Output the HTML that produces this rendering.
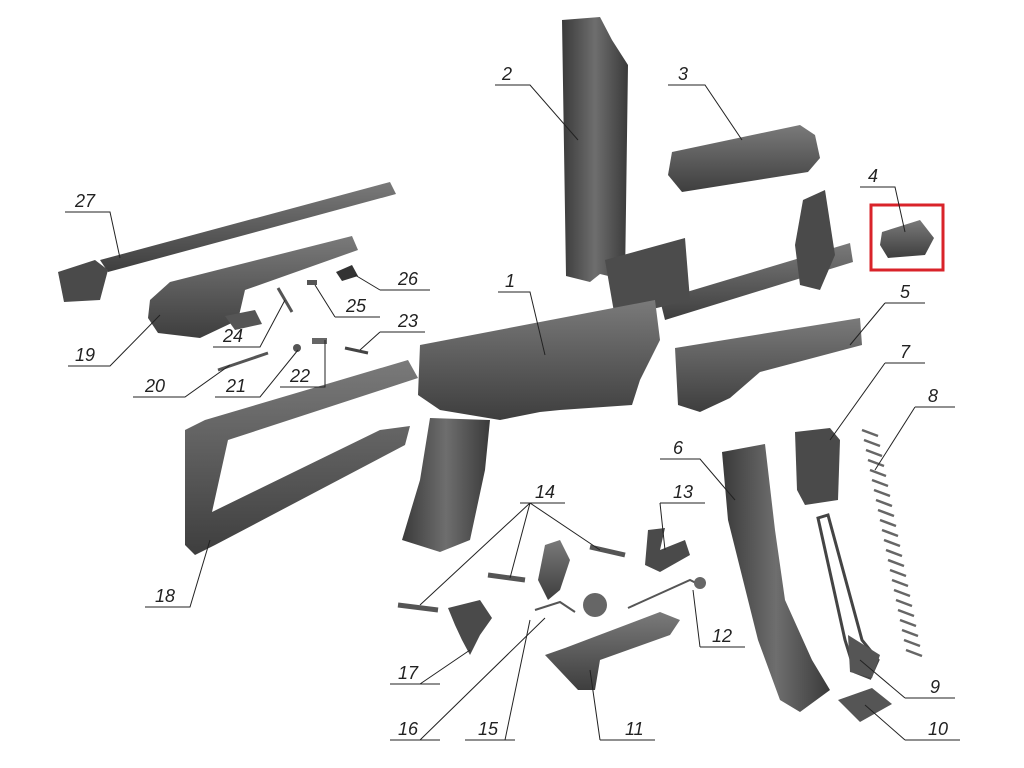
<!DOCTYPE html>
<html><head><meta charset="utf-8"><style>
html,body{margin:0;padding:0;background:#fff;}
svg{display:block}
text{font-family:"Liberation Sans",sans-serif;font-style:italic;font-size:18px;fill:#222}
.l{stroke:#222;stroke-width:1;fill:none}
</style></head><body>
<svg width="1024" height="768" viewBox="0 0 1024 768">
<defs>
<linearGradient id="g" x1="0" y1="0" x2="0" y2="1"><stop offset="0" stop-color="#7a7a7a"/><stop offset="1" stop-color="#3e3e3e"/></linearGradient>
<linearGradient id="g2" x1="0" y1="0" x2="1" y2="0"><stop offset="0" stop-color="#3a3a3a"/><stop offset=".5" stop-color="#6e6e6e"/><stop offset="1" stop-color="#3a3a3a"/></linearGradient>
</defs>
<!-- 27 rod -->
<path d="M100 260 L390 182 L396 194 L108 272 Z" fill="url(#g)"/>
<path d="M58 272 L95 260 L108 270 L100 300 L64 302 Z" fill="#4a4a4a"/>
<!-- 19 bolt carrier -->
<path d="M150 300 L170 282 L352 236 L358 250 L245 290 L238 320 L200 338 L158 333 L148 318 Z" fill="url(#g)"/>
<path d="M225 316 L255 310 L262 324 L235 330 Z" fill="#555"/>
<!-- small parts -->
<path d="M278 288 L292 312" stroke="#555" stroke-width="3"/>
<rect x="307" y="280" width="10" height="5" fill="#555"/>
<path d="M336 272 L352 265 L358 276 L342 281 Z" fill="#333"/>
<path d="M218 370 L268 353" stroke="#555" stroke-width="3"/>
<circle cx="297" cy="348" r="4" fill="#555"/>
<rect x="312" y="338" width="15" height="6" fill="#666"/>
<path d="M345 348 L368 353" stroke="#444" stroke-width="3"/>
<!-- 2 top cover -->
<path d="M562 20 L600 17 L612 40 L628 65 L625 280 L600 274 L590 282 L566 276 Z" fill="url(#g2)"/>
<!-- barrel -->
<path d="M660 300 L850 243 L853 262 L665 320 Z" fill="url(#g)"/>
<!-- front sight -->
<path d="M803 200 L825 190 L835 255 L820 290 L800 285 L795 245 Z" fill="#4a4a4a"/>
<!-- rear sight block -->
<path d="M605 260 L685 238 L690 300 L615 318 Z" fill="#4c4c4c"/>
<!-- receiver -->
<path d="M420 345 L655 300 L660 340 L640 380 L632 405 L560 410 L540 412 L500 420 L440 410 L418 395 Z" fill="url(#g)"/>
<!-- stock -->
<path d="M185 430 L205 420 L408 360 L418 378 L228 440 L212 512 L380 430 L410 426 L405 445 L215 545 L195 555 L185 545 Z" fill="url(#g)"/>
<!-- grip -->
<path d="M430 418 L490 420 L485 470 L470 540 L440 552 L402 540 L420 480 Z" fill="url(#g2)"/>
<!-- 3 -->
<path d="M672 152 L800 125 L815 135 L820 158 L808 172 L682 192 L668 175 Z" fill="url(#g)"/>
<!-- 4 -->
<path d="M882 232 L920 220 L934 238 L925 255 L888 258 L880 245 Z" fill="url(#g)"/>
<rect x="871" y="205" width="72" height="65" fill="none" stroke="#d9232a" stroke-width="3"/>
<!-- 5 handguard -->
<path d="M675 348 L860 318 L862 345 L760 372 L730 398 L700 412 L678 405 Z" fill="url(#g)"/>
<!-- 6 magazine -->
<path d="M722 452 L765 444 L775 530 L785 600 L812 660 L830 690 L800 712 L780 700 L758 640 L738 560 L728 520 Z" fill="url(#g2)"/>
<!-- 7 -->
<path d="M795 432 L830 428 L840 440 L838 500 L805 505 L797 490 Z" fill="#4a4a4a"/>
<!-- 8 spring -->
<path d="M862 430 L878 436 M864 440 L880 446 M866 450 L882 456 M868 460 L884 466 M870 470 L886 476 M872 480 L888 486 M874 490 L890 496 M876 500 L892 506 M878 510 L894 516 M880 520 L896 526 M882 530 L898 536 M884 540 L900 546 M886 550 L902 556 M888 560 L904 566 M890 570 L906 576 M892 580 L908 586 M894 590 L910 596 M896 600 L912 606 M898 610 L914 616 M900 620 L916 626 M902 630 L918 636 M904 640 L920 646 M906 650 L922 656" stroke="#666" stroke-width="2.5"/>
<!-- 9 -->
<path d="M818 518 L828 515 L862 640 L878 660 L870 678 L855 672 L845 640 Z" fill="none" stroke="#444" stroke-width="3"/>
<path d="M848 635 L880 655 L872 678 L850 672 Z" fill="#555"/>
<!-- 10 -->
<path d="M838 700 L872 688 L892 704 L860 722 Z" fill="#555"/>
<!-- 11 -->
<path d="M545 655 L565 648 L660 612 L680 620 L670 635 L600 660 L595 690 L578 690 Z" fill="url(#g)"/>
<!-- 12 -->
<path d="M628 608 L690 580 L700 585" stroke="#555" stroke-width="2" fill="none"/>
<circle cx="700" cy="583" r="6" fill="#666"/>
<!-- 13 -->
<path d="M648 530 L665 528 L660 550 L685 540 L690 555 L660 572 L645 565 Z" fill="#4a4a4a"/>
<!-- 14 pins -->
<path d="M590 547 L625 555" stroke="#555" stroke-width="5"/>
<path d="M488 575 L525 580" stroke="#555" stroke-width="5"/>
<path d="M398 605 L438 610" stroke="#555" stroke-width="5"/>
<!-- hammer -->
<path d="M545 545 L560 540 L570 560 L560 590 L548 600 L538 580 Z" fill="url(#g)"/>
<!-- 16 spring -->
<path d="M535 610 L560 602 L575 612" stroke="#555" stroke-width="2" fill="none"/>
<circle cx="595" cy="605" r="12" fill="#666"/>
<!-- 17 trigger -->
<path d="M448 608 L480 600 L492 618 L480 635 L470 655 L462 640 L455 625 Z" fill="#4a4a4a"/>
<!-- labels and leaders -->
<g class="l">
<path d="M498 292 L530 292 L545 355"/>
<path d="M495 85 L530 85 L578 140"/>
<path d="M668 85 L705 85 L742 140"/>
<path d="M860 187 L895 187 L905 232"/>
<path d="M885 303 L925 303 M885 303 L850 345"/>
<path d="M660 459 L700 459 L735 500"/>
<path d="M885 363 L925 363 M885 363 L830 440"/>
<path d="M915 407 L955 407 M915 407 L875 470"/>
<path d="M905 698 L955 698 M905 698 L860 660"/>
<path d="M905 740 L960 740 M905 740 L865 705"/>
<path d="M600 740 L655 740 M600 740 L590 670"/>
<path d="M700 647 L745 647 M700 647 L693 590"/>
<path d="M660 503 L705 503 M660 503 L665 550"/>
<path d="M520 503 L565 503 M530 503 L600 550 M530 503 L510 578 M530 503 L420 605"/>
<path d="M465 740 L515 740 M505 740 L530 620"/>
<path d="M390 740 L440 740 M420 740 L545 618"/>
<path d="M390 684 L440 684 M420 684 L470 650"/>
<path d="M145 607 L190 607 L210 540"/>
<path d="M68 366 L110 366 L160 315"/>
<path d="M133 397 L185 397 L230 365"/>
<path d="M215 397 L260 397 L298 350"/>
<path d="M280 387 L325 387 L325 340"/>
<path d="M380 332 L425 332 M380 332 L360 350"/>
<path d="M213 347 L260 347 L285 300"/>
<path d="M335 317 L380 317 M335 317 L315 285"/>
<path d="M380 290 L430 290 M380 290 L355 275"/>
<path d="M65 212 L110 212 L120 258"/>
</g>
<text x="505" y="287">1</text><text x="502" y="80">2</text><text x="678" y="80">3</text>
<text x="868" y="182">4</text><text x="900" y="298">5</text><text x="673" y="454">6</text>
<text x="900" y="358">7</text><text x="928" y="402">8</text><text x="930" y="693">9</text>
<text x="928" y="735">10</text><text x="625" y="735">11</text><text x="712" y="642">12</text>
<text x="673" y="498">13</text><text x="535" y="498">14</text><text x="478" y="735">15</text>
<text x="398" y="735">16</text><text x="398" y="679">17</text><text x="155" y="602">18</text>
<text x="75" y="361">19</text><text x="145" y="392">20</text><text x="226" y="392">21</text>
<text x="290" y="382">22</text><text x="398" y="327">23</text><text x="223" y="342">24</text>
<text x="346" y="312">25</text><text x="398" y="285">26</text><text x="75" y="207">27</text>
</svg>
</body></html>
